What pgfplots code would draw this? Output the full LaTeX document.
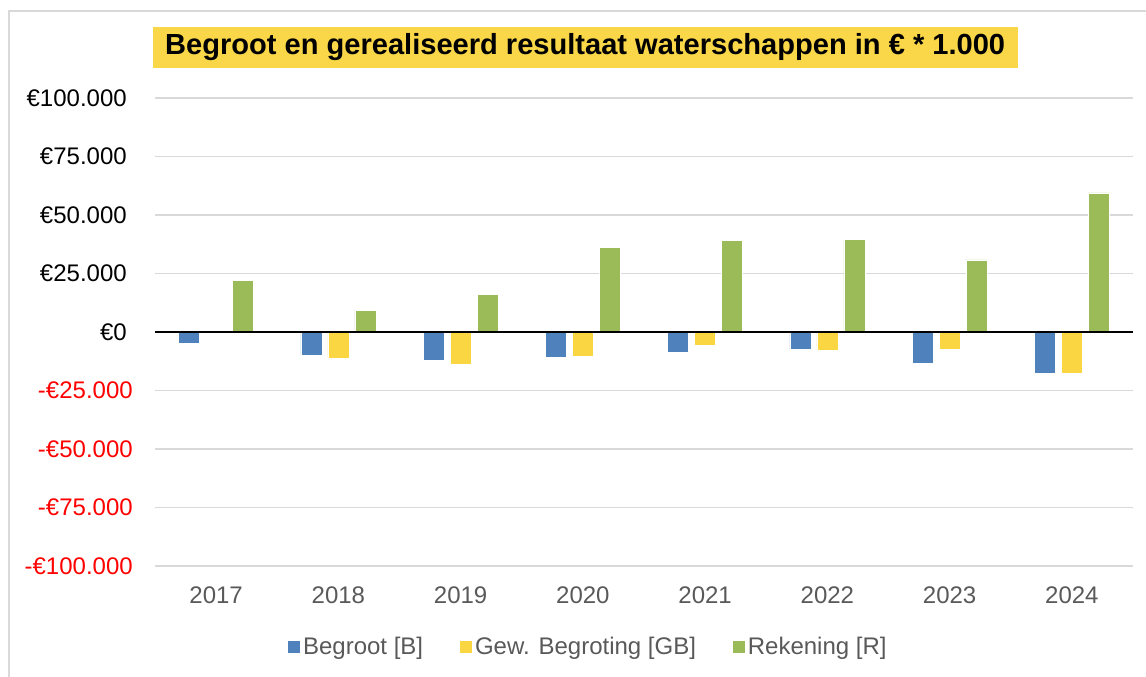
\documentclass[border=0pt]{standalone}
\usepackage{fontspec}
\setmainfont{Liberation Sans}
\usepackage{pgfplots}
\pgfplotsset{compat=1.18}
\definecolor{cB}{HTML}{4F81BD}
\definecolor{cGB}{HTML}{F9D642}
\definecolor{cR}{HTML}{9BBB59}
\definecolor{tickc}{HTML}{595959}
\definecolor{gridc}{HTML}{D9D9D9}
\definecolor{titley}{HTML}{F9D748}
\definecolor{negred}{HTML}{FF0000}
\newcommand{\pos}[1]{#1\kern4.5pt}
\newcommand{\negl}[1]{\textcolor{negred}{#1}}
\begin{document}
\begin{tikzpicture}[x=0.75pt,y=-0.75pt]
\useasboundingbox (0,0) rectangle (1146,677);
\draw[gridc, line width=1.5pt] (9,677) -- (9,11) -- (1146,11);
\node[fill=titley, font=\bfseries\fontsize{21.8}{26}\selectfont, minimum width=648.75pt, minimum height=31.2pt, inner sep=0pt] at (585.2,47.5) {Begroot en gerealiseerd resultaat waterschappen in € * 1.000};
\begin{axis}[
  at={(116.25pt,-424.5pt)}, anchor=south west,
  scale only axis, width=733.5pt, height=351pt,
  ybar, bar width=15.75pt,
  xmin=-0.5, xmax=7.5, ymin=-100000, ymax=100000,
  xtick={0,...,7}, xticklabels={2017,2018,2019,2020,2021,2022,2023,2024},
  ytick={-100000,-75000,-50000,-25000,0,25000,50000,75000,100000},
  yticklabels={\negl{-€100.000},\negl{-€75.000},\negl{-€50.000},\negl{-€25.000},\pos{€0},\pos{€25.000},\pos{€50.000},\pos{€75.000},\pos{€100.000}},
  ymajorgrids, grid style={gridc, line width=1.1pt},
  axis line style={draw=none}, major tick length=0pt,
  tick label style={font=\fontsize{18}{21}\selectfont},
  xticklabel style={text=tickc, anchor=center, inner sep=0pt, yshift=-21.75pt},
  yticklabel style={anchor=east, inner sep=0pt, xshift=-16.5pt},
  scaled y ticks=false,
  clip=false,
  legend style={at={(0.443,-0.172)}, anchor=center, draw=none, fill=none, legend columns=3,
    font=\fontsize{18}{21}\selectfont, text=tickc,
    /tikz/every even column/.append style={column sep=25pt},
    nodes={inner sep=2pt}},
  legend image code/.code={\fill[#1] (0pt,-4.75pt) rectangle (9.5pt,4.75pt);},
]
\addplot[fill=cB, draw=white, line width=0.4pt, bar shift=-20.25pt] coordinates {(0,-4700) (1,-9800) (2,-12000) (3,-10700) (4,-8800) (5,-7400) (6,-13300) (7,-17700)};
\addlegendentry{Begroot [B]}
\addplot[fill=cGB, draw=white, line width=0.4pt, bar shift=0pt] coordinates {(0,700) (1,-11100) (2,-13800) (3,-10400) (4,-5700) (5,-7700) (6,-7200) (7,-17600)};
\addlegendentry{Gew. Begroting [GB]}
\addplot[fill=cR, draw=white, line width=0.4pt, bar shift=20.25pt] coordinates {(0,22000) (1,9400) (2,16100) (3,36200) (4,39000) (5,39600) (6,30800) (7,59500)};
\addlegendentry{Rekening [R]}
\draw[black, line width=1.3pt] (axis cs:-0.5,0) -- (axis cs:7.5,0);
\end{axis}
\end{tikzpicture}
\end{document}
